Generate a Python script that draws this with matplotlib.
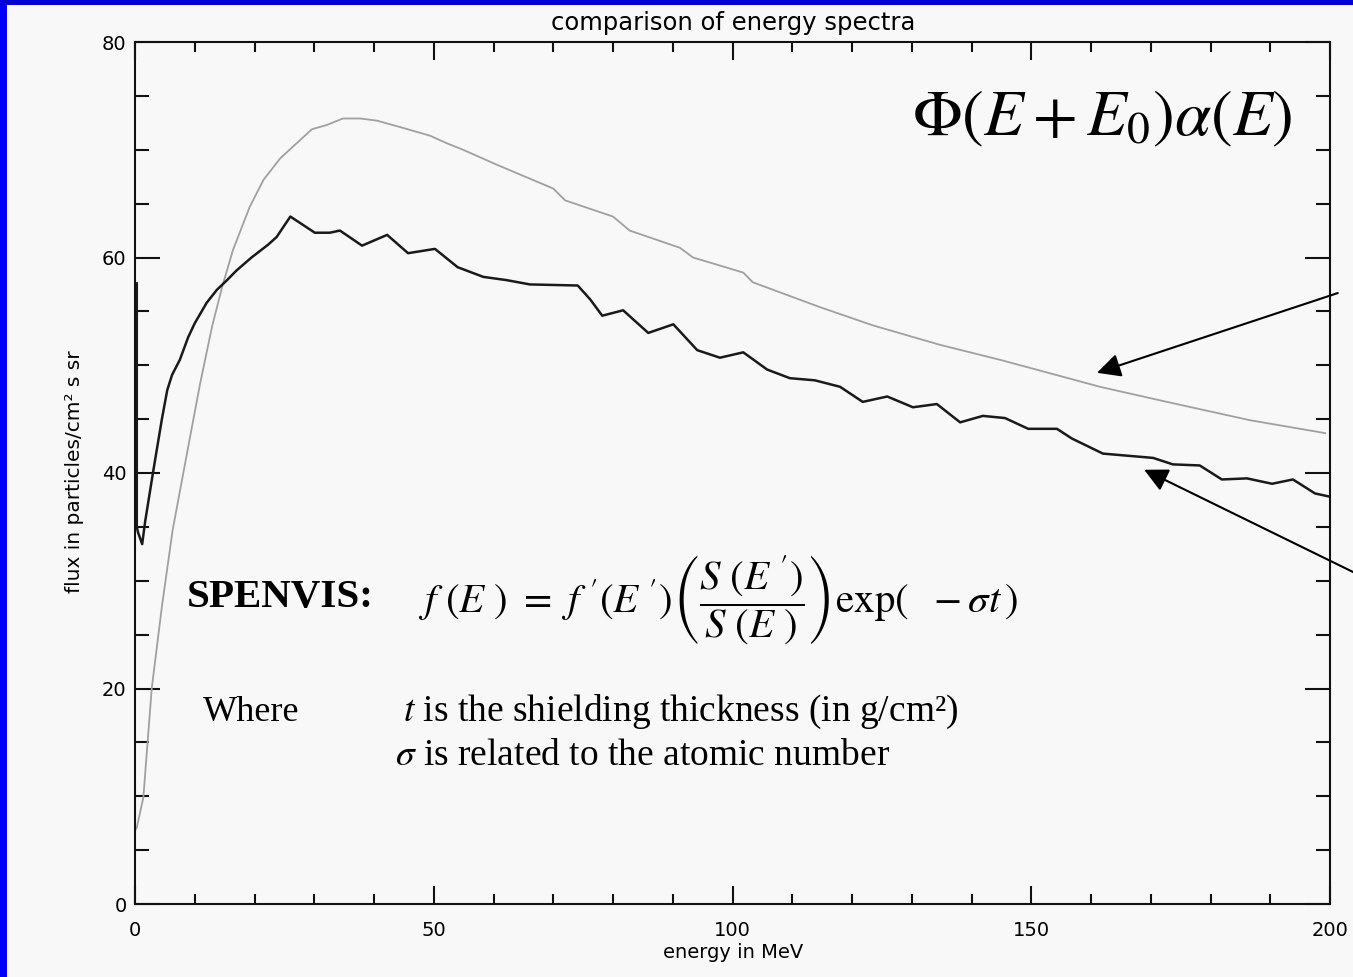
import matplotlib
matplotlib.use("Agg")
import matplotlib.pyplot as plt
from matplotlib.patches import Rectangle
from matplotlib.ticker import MultipleLocator

# shielded spectrum (black)
black_energy = [0.3, 0.3, 0.5, 1.2, 1.7, 3.0, 4.5, 5.4, 6.2, 7.5, 8.9, 10, 12, 13.7, 15.4, 17,
                19.5, 22.3, 23.7, 26, 30.1, 32.6, 34.3, 38, 42.2, 45.7, 50.2, 54, 58.3, 62.2,
                66.1, 74.1, 76.2, 78.2, 81.7, 85.9, 90.1, 94.1, 97.9, 101.8, 105.8, 109.6,
                113.8, 118, 121.8, 125.9, 130.2, 134.2, 138.1, 141.9, 145.6, 149.5, 154.3,
                156.8, 162, 170.4, 173.7, 178.2, 181.9, 186.1, 190.3, 193.8, 197.5, 200]
black_flux = [57.6, 35.0, 34.5, 33.4, 35.5, 40.0, 45.0, 47.7, 49.1, 50.5, 52.6, 53.9, 55.8,
              57.0, 57.9, 58.8, 60.0, 61.2, 61.9, 63.8, 62.3, 62.3, 62.5, 61.1, 62.1, 60.4,
              60.8, 59.1, 58.2, 57.9, 57.5, 57.4, 56.1, 54.6, 55.1, 53.0, 53.8, 51.4, 50.7,
              51.2, 49.6, 48.8, 48.6, 48.0, 46.6, 47.1, 46.1, 46.4, 44.7, 45.3, 45.1, 44.1,
              44.1, 43.2, 41.8, 41.4, 40.8, 40.7, 39.4, 39.5, 39.0, 39.4, 38.1, 37.8]

# shifted spectrum Phi(E+E0)alpha(E) (gray)
gray_energy = [0, 0.3, 1.4, 2.8, 4.5, 6.3, 9.2, 10.9, 12.9, 14.6, 16.4, 19.2, 21.5, 24.3,
               29.6, 32.1, 34.8, 37.7, 40.5, 44.4, 49.4, 52.2, 54.9, 60.6, 70, 72, 80, 82.8,
               91.2, 93.4, 101.8, 103.4, 114.6, 123.5, 134.7, 144.8, 149.5, 161.5, 172.7,
               186.6, 199.2]
gray_flux = [6.8, 7.1, 9.9, 20.0, 27.6, 34.7, 43.3, 48.3, 53.6, 57.3, 60.7, 64.7, 67.2, 69.2,
             71.9, 72.3, 72.9, 72.9, 72.7, 72.1, 71.3, 70.6, 70.0, 68.6, 66.4, 65.3, 63.8,
             62.5, 60.9, 60.0, 58.6, 57.7, 55.4, 53.7, 51.9, 50.5, 49.8, 48.0, 46.6, 44.9,
             43.7]

plt.rcParams['mathtext.fontset'] = 'stix'
bg = '#f8f8f8'

fig = plt.figure(figsize=(13.53, 9.77), dpi=100, facecolor=bg)
ax = fig.add_axes([135 / 1353, 73 / 977, 1195 / 1353, 862 / 977])
ax.set_facecolor(bg)

ax.plot(gray_energy, gray_flux, color='#a0a0a0', lw=1.3)
ax.plot(black_energy, black_flux, color='#1a1a1a', lw=1.8)

ax.set_xlim(0, 200)
ax.set_ylim(0, 80)
ax.xaxis.set_major_locator(MultipleLocator(50))
ax.xaxis.set_minor_locator(MultipleLocator(10))
ax.yaxis.set_major_locator(MultipleLocator(20))
ax.yaxis.set_minor_locator(MultipleLocator(5))
ax.tick_params(which='both', direction='in', top=True, right=True, width=1.5, color='#111111')
ax.tick_params(axis='x', which='major', length=13, pad=12, labelsize=14)
ax.tick_params(axis='x', which='minor', length=7)
ax.tick_params(axis='y', which='major', length=18, pad=6, labelsize=14)
ax.tick_params(axis='y', which='minor', length=10)
for s in ax.spines.values():
    s.set_linewidth(1.5)
    s.set_color('#111111')

fig.text(733 / 1353, 1 - 23 / 977, 'comparison of energy spectra', ha='center', va='center',
         fontsize=17.5)
fig.text(733 / 1353, 1 - 952 / 977, 'energy in MeV', ha='center', va='center', fontsize=14)
fig.text(75 / 1353, 1 - 472 / 977, 'flux in particles/cm² s sr', ha='center', va='center',
         rotation=90, fontsize=14.5)

# annotations
ax.text(161.8, 73.0, r'$\Phi(E+E_0)\alpha(E)$', ha='center', va='center', fontsize=47)
ax.text(8.7, 28.4, 'SPENVIS:', ha='left', va='center', fontsize=29.5, fontweight='bold',
        family='Liberation Serif')
ax.text(47.4, 28.2,
        r"$f\ (E\ )\ =\ f\ '(E\ ')\left(\dfrac{S\ (E\ ')}{S\ (E\ )}\right)\mathrm{exp}(\ \ -\sigma t\,)$",
        ha='left', va='center', fontsize=29.5)
ax.text(11.4, 17.8, 'Where', ha='left', va='center', fontsize=26, family='Liberation Serif')
ax.text(44.9, 17.8, r'$t$ is the shielding thickness (in g/cm²)', ha='left', va='center',
        fontsize=27, family='Liberation Serif')
ax.text(43.5, 13.8, r'$\sigma$ is related to the atomic number', ha='left', va='center',
        fontsize=27, family='Liberation Serif')

arrow = dict(arrowstyle='-|>', mutation_scale=36, lw=1.5, color='black', shrinkA=0, shrinkB=0)
ax.annotate('', xy=(161.0, 49.3), xytext=(201.3, 56.7), arrowprops=arrow,
            annotation_clip=False)
ax.annotate('', xy=(168.9, 40.3), xytext=(203.9, 30.8), arrowprops=arrow,
            annotation_clip=False)

# blue slide frame
fig.add_artist(Rectangle((0, 0), 7 / 1353, 1, transform=fig.transFigure, color='#0000f5',
                         lw=0))
fig.add_artist(Rectangle((0, 1 - 5 / 977), 1, 5 / 977, transform=fig.transFigure,
                         color='#0000d8', lw=0))

fig.savefig('out.png', dpi=100, facecolor=bg)
